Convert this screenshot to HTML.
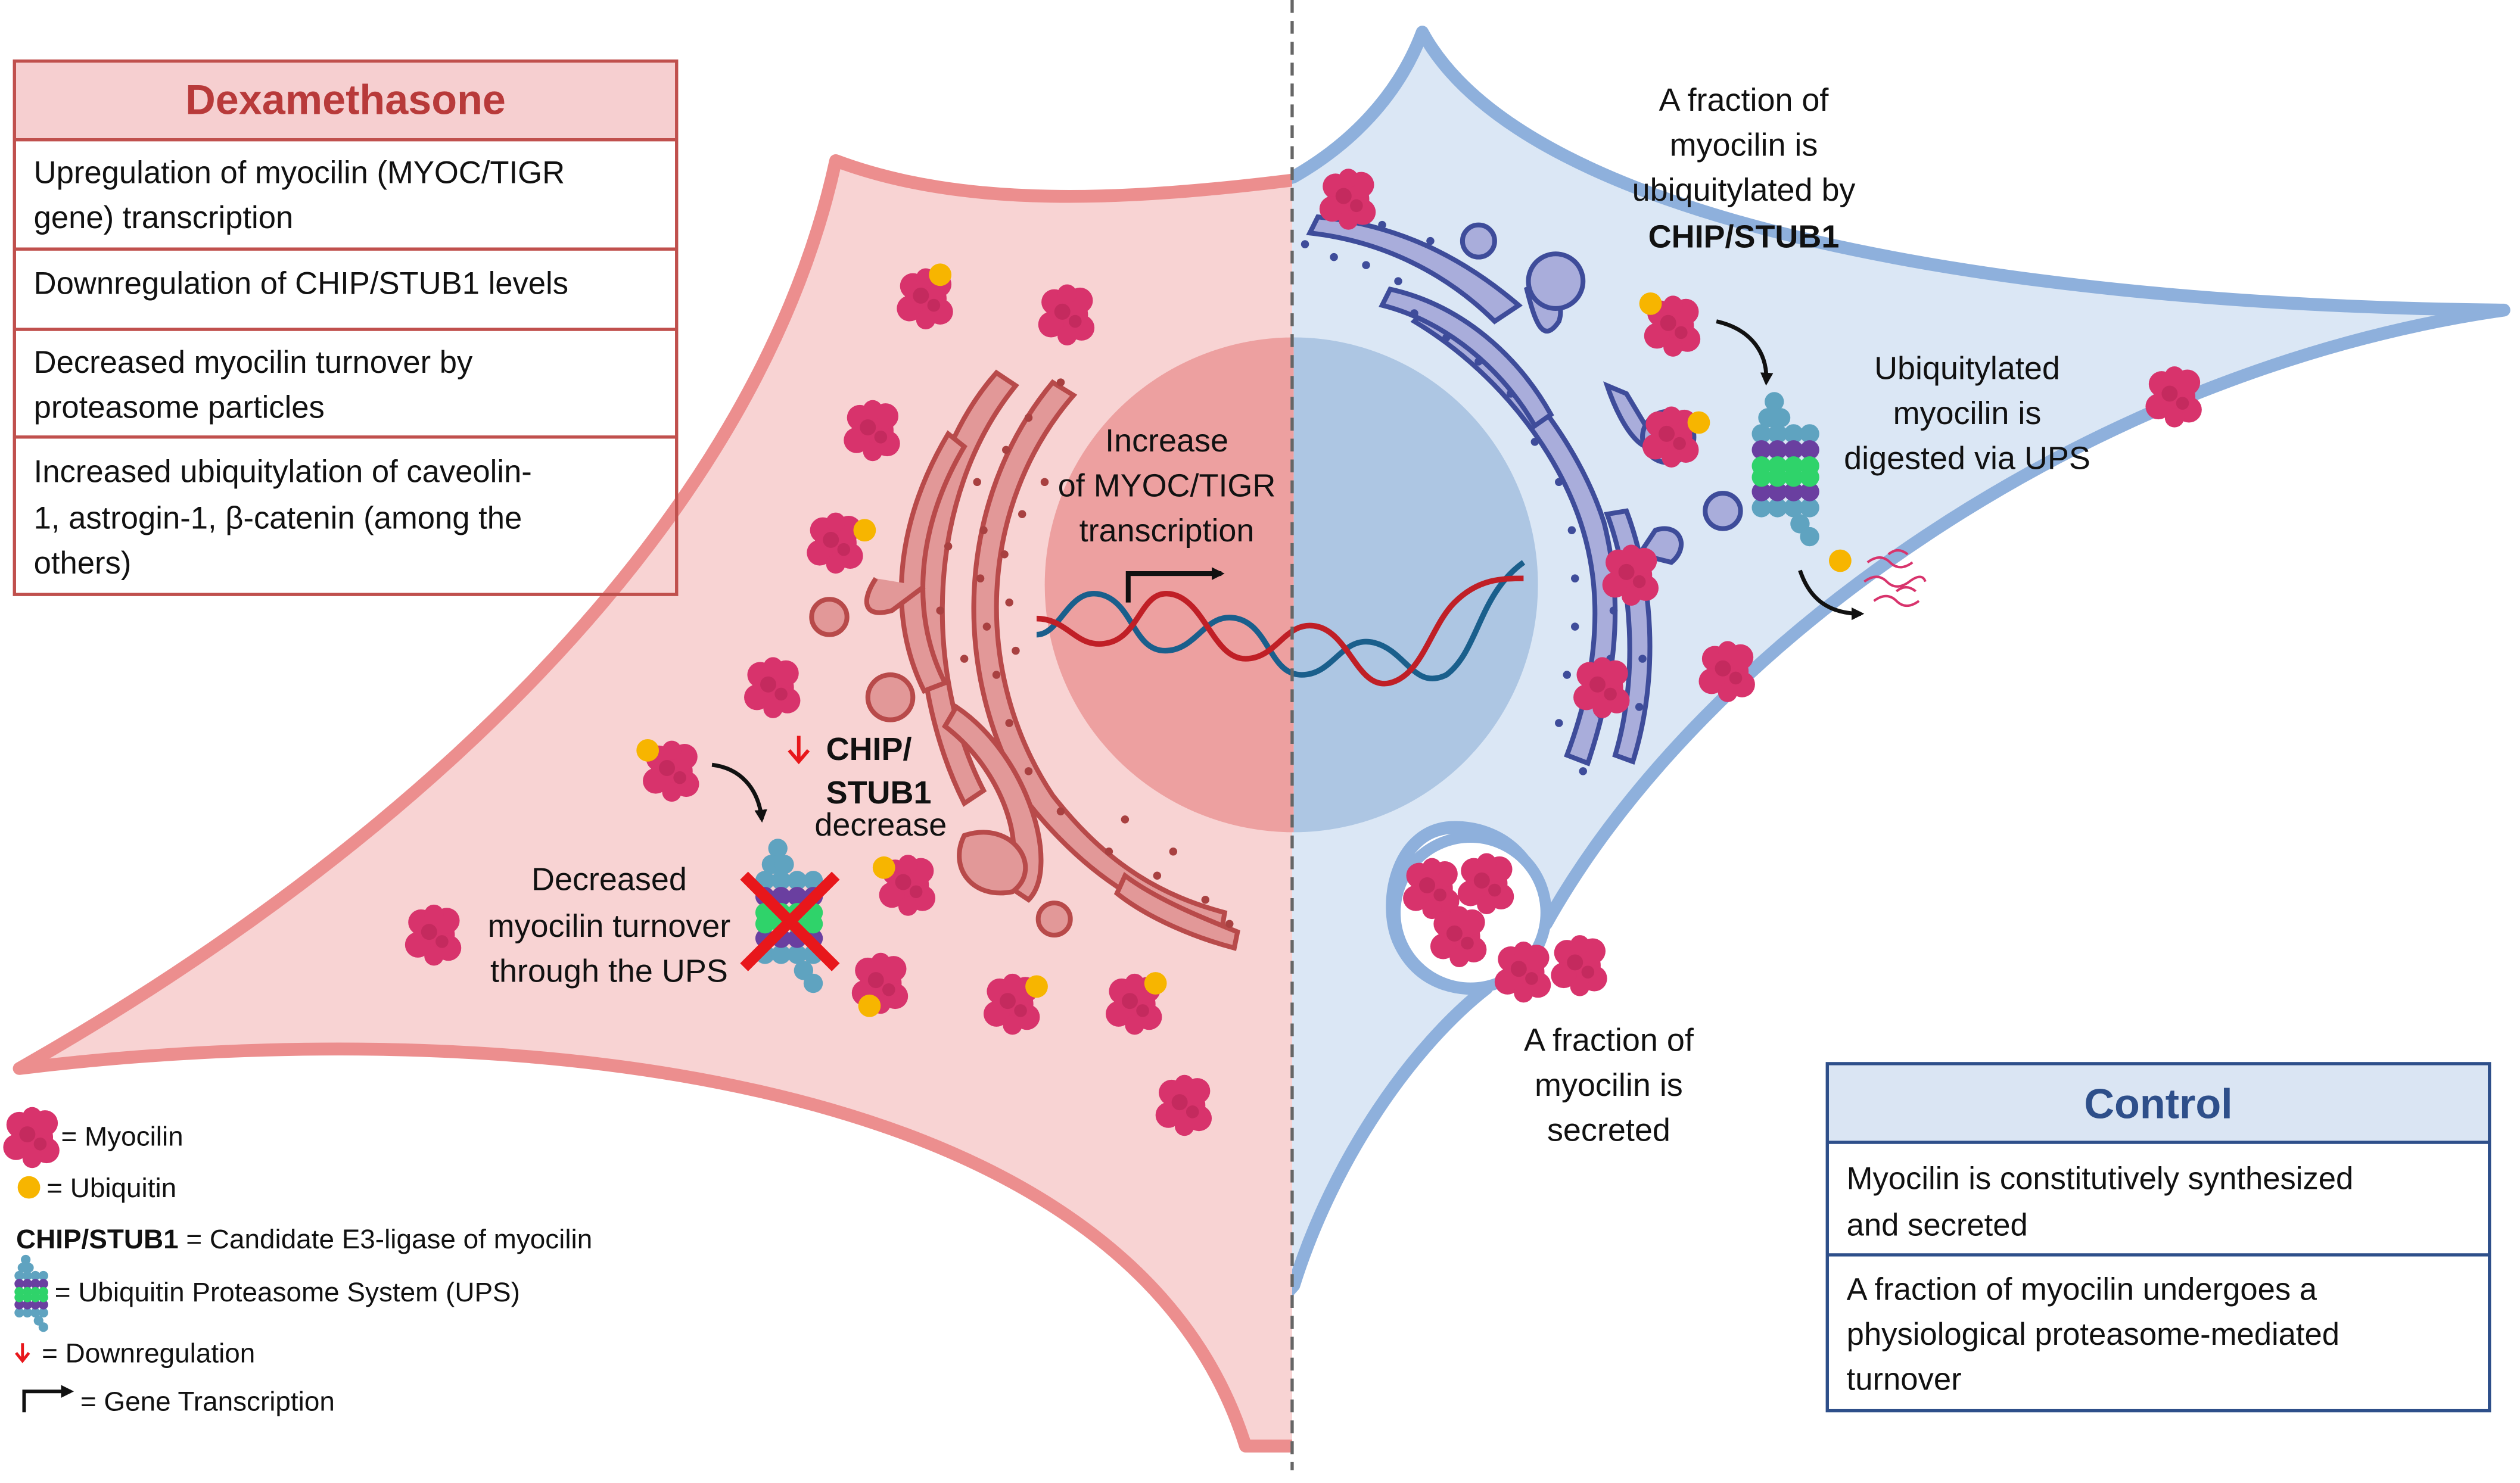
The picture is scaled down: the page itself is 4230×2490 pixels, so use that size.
<!DOCTYPE html>
<html><head><meta charset="utf-8"><style>
html,body{margin:0;padding:0;background:#fff;}
svg{display:block;}
text{font-family:"Liberation Sans",sans-serif;fill:#111;}
</style></head><body>
<svg width="4230" height="2490" viewBox="0 0 1568 923" preserveAspectRatio="none" xmlns="http://www.w3.org/2000/svg">
<defs>
<clipPath id="cl"><rect x="0" y="0" width="804" height="923"/></clipPath>
<clipPath id="cr"><rect x="804" y="0" width="800" height="923"/></clipPath>
<g id="m"><circle cx="0" cy="0" r="13" fill="#d8336c"/><circle cx="-8" cy="-8" r="8" fill="#d8336c"/><circle cx="8" cy="-9" r="8" fill="#d8336c"/><circle cx="-10" cy="6" r="8" fill="#d8336c"/><circle cx="9" cy="8" r="8" fill="#d8336c"/><circle cx="0" cy="-13" r="6" fill="#d8336c"/><circle cx="0" cy="13" r="6" fill="#d8336c"/><circle cx="-3" cy="-2" r="5" fill="#c42a5e"/><circle cx="5" cy="4" r="4" fill="#c42a5e"/></g>
<g id="p">
<g fill="#5fa3c0"><circle cx="-8" cy="-42" r="6"/><circle cx="-12" cy="-32" r="6"/><circle cx="-4" cy="-32" r="6"/><circle cx="-16" cy="-22" r="6"/><circle cx="-6" cy="-22" r="6"/><circle cx="4" cy="-22" r="6"/><circle cx="14" cy="-22" r="6"/><circle cx="-16" cy="24" r="6"/><circle cx="-6" cy="24" r="6"/><circle cx="4" cy="24" r="6"/><circle cx="14" cy="24" r="6"/><circle cx="8" cy="34" r="6"/><circle cx="14" cy="42" r="6"/></g>
<g fill="#6a3fa0"><circle cx="-16" cy="-12" r="6"/><circle cx="-6" cy="-12" r="6"/><circle cx="4" cy="-12" r="6"/><circle cx="14" cy="-12" r="6"/><circle cx="-16" cy="14" r="6"/><circle cx="-6" cy="14" r="6"/><circle cx="4" cy="14" r="6"/><circle cx="14" cy="14" r="6"/></g>
<g fill="#2fd36a"><circle cx="-16" cy="-2" r="6"/><circle cx="-6" cy="-2" r="6"/><circle cx="4" cy="-2" r="6"/><circle cx="14" cy="-2" r="6"/><circle cx="-16" cy="5" r="6"/><circle cx="-6" cy="5" r="6"/><circle cx="4" cy="5" r="6"/><circle cx="14" cy="5" r="6"/></g>
</g>
<marker id="ah" markerWidth="8" markerHeight="8" refX="6" refY="4" orient="auto" markerUnits="userSpaceOnUse"><path d="M0,0 L8,4 L0,8 Z" fill="#111"/></marker>
</defs>

<!-- right cell -->
<g clip-path="url(#cr)">
<path d="M760,125 L805,110 C840,90 870,60 885,20 C950,140 1250,190 1558,193 C1300,230 1060,400 962,575 C958,530 930,515 905,515 C870,515 860,560 870,585 C885,620 920,615 925,615 C880,650 830,720 805,800 L760,850 Z" fill="#dbe7f5" stroke="#8eb0dc" stroke-width="8" stroke-linejoin="round"/>
</g>
<circle cx="915" cy="568" r="47" fill="#fff" stroke="#8eb0dc" stroke-width="7"/>
<!-- left cell -->
<g clip-path="url(#cl)">
<path d="M850,108 L805,112 C700,125 600,130 520,100 C470,330 250,530 12,665 C300,630 700,660 775,900 L850,900 Z" fill="#f8d3d3" stroke="#ec8e8e" stroke-width="8" stroke-linejoin="round"/>
</g>
<!-- nucleus -->
<path d="M805,210 A155,154 0 0 0 805,518 Z" fill="#eda0a0"/>
<path d="M805,210 A152,154 0 0 1 805,518 Z" fill="#adc6e3"/>

<!-- left ER -->
<g fill="#e29898" stroke="#b84a4a" stroke-width="3">
<path d="M620,232 C560,300 560,420 600,500 L612,492 C575,420 575,310 632,240 Z"/>
<path d="M655,238 C595,310 590,420 640,500 C680,550 720,570 760,580 L762,568 C725,558 690,540 655,495 C605,420 608,315 668,246 Z"/>
<path d="M590,270 C560,320 550,380 575,430 L588,425 C565,380 572,325 600,278 Z"/>
<path d="M545,360 C535,375 538,385 555,380 L575,365" />
<path d="M595,440 C640,470 660,540 640,560 L625,550 C640,530 625,480 588,452 Z"/>
<path d="M700,545 C720,560 750,572 770,580 L768,590 C745,584 715,572 695,556 Z"/>
<path d="M600,520 C630,510 650,540 630,555 C605,560 590,540 600,520 Z"/>
</g>
<circle cx="516" cy="384" r="11" fill="#e29898" stroke="#b84a4a" stroke-width="3"/>
<circle cx="554" cy="434" r="14" fill="#e29898" stroke="#b84a4a" stroke-width="3"/>
<circle cx="656" cy="572" r="10" fill="#e29898" stroke="#b84a4a" stroke-width="3"/>
<g fill="#a84040">
<circle cx="608" cy="300" r="2.5"/><circle cx="612" cy="330" r="2.5"/><circle cx="610" cy="360" r="2.5"/><circle cx="614" cy="390" r="2.5"/><circle cx="620" cy="420" r="2.5"/><circle cx="626" cy="280" r="2.5"/><circle cx="640" cy="260" r="2.5"/><circle cx="660" cy="238" r="2.5"/><circle cx="628" cy="450" r="2.5"/><circle cx="640" cy="480" r="2.5"/><circle cx="660" cy="505" r="2.5"/><circle cx="690" cy="530" r="2.5"/><circle cx="720" cy="545" r="2.5"/><circle cx="750" cy="560" r="2.5"/><circle cx="590" cy="340" r="2.5"/><circle cx="585" cy="380" r="2.5"/><circle cx="600" cy="410" r="2.5"/><circle cx="625" cy="345" r="2.5"/><circle cx="628" cy="375" r="2.5"/><circle cx="632" cy="405" r="2.5"/><circle cx="650" cy="300" r="2.5"/><circle cx="636" cy="320" r="2.5"/><circle cx="700" cy="510" r="2.5"/><circle cx="730" cy="530" r="2.5"/><circle cx="765" cy="575" r="2.5"/>
</g>

<!-- right ER -->
<g fill="#a9addb" stroke="#3e4c9a" stroke-width="3">
<path d="M815,145 C860,150 900,170 930,200 L945,190 C910,160 870,140 820,135 Z"/>
<path d="M880,200 C930,230 970,280 985,330 C1000,380 990,430 975,470 L988,475 C1003,430 1012,380 998,325 C982,275 940,220 890,190 Z"/>
<path d="M860,190 C900,200 935,230 955,265 L965,258 C945,222 910,190 865,180 Z"/>
<path d="M1000,320 C1015,360 1020,420 1005,470 L1016,474 C1033,420 1028,360 1012,318 Z"/>
<path d="M950,180 C955,200 960,215 970,200 C975,185 960,175 950,180 Z"/>
<path d="M1000,240 C1010,270 1025,285 1030,275 L1012,245 Z"/>
<path d="M1030,330 C1045,325 1052,340 1040,350 L1020,345 Z"/>
</g>
<circle cx="920" cy="150" r="10" fill="#a9addb" stroke="#3e4c9a" stroke-width="3"/>
<circle cx="968" cy="175" r="17" fill="#a9addb" stroke="#3e4c9a" stroke-width="3"/>
<circle cx="1072" cy="318" r="11" fill="#a9addb" stroke="#3e4c9a" stroke-width="3"/>
<circle cx="1038" cy="272" r="16" fill="#a9addb" stroke="#3e4c9a" stroke-width="3"/>
<g fill="#3e4c9a">
<circle cx="812" cy="152" r="2.5"/><circle cx="830" cy="160" r="2.5"/><circle cx="850" cy="165" r="2.5"/><circle cx="870" cy="175" r="2.5"/><circle cx="880" cy="195" r="2.5"/><circle cx="900" cy="210" r="2.5"/><circle cx="920" cy="225" r="2.5"/><circle cx="940" cy="245" r="2.5"/><circle cx="955" cy="275" r="2.5"/><circle cx="970" cy="300" r="2.5"/><circle cx="978" cy="330" r="2.5"/><circle cx="980" cy="360" r="2.5"/><circle cx="980" cy="390" r="2.5"/><circle cx="975" cy="420" r="2.5"/><circle cx="970" cy="450" r="2.5"/><circle cx="1002" cy="350" r="2.5"/><circle cx="1004" cy="380" r="2.5"/><circle cx="1002" cy="410" r="2.5"/><circle cx="996" cy="445" r="2.5"/><circle cx="985" cy="480" r="2.5"/><circle cx="1020" cy="440" r="2.5"/><circle cx="1022" cy="410" r="2.5"/><circle cx="860" cy="140" r="2.5"/><circle cx="890" cy="150" r="2.5"/>
</g>

<!-- DNA -->
<path d="M645,395 C660,395 665,365 685,370 C705,375 705,405 725,405 C745,405 750,380 770,385 C790,390 790,420 810,420 C830,420 835,395 855,400 C875,405 880,430 900,420 C920,405 920,370 948,350" fill="none" stroke="#1a5f8c" stroke-width="3.5"/>
<path d="M645,385 C665,385 670,405 690,400 C710,395 710,365 730,370 C750,375 755,410 775,410 C795,410 800,385 820,390 C840,395 845,430 865,425 C885,420 890,390 905,375 C920,360 935,360 948,360" fill="none" stroke="#c01f26" stroke-width="3.5"/>
<path d="M702,375 L702,357 L760,357" fill="none" stroke="#111" stroke-width="3" marker-end="url(#ah)"/>
<text x="726" y="281" font-size="20" text-anchor="middle">Increase</text>
<text x="726" y="309" font-size="20" text-anchor="middle">of MYOC/TIGR</text>
<text x="726" y="337" font-size="20" text-anchor="middle">transcription</text>

<!-- dashed line -->
<line x1="804" y1="0" x2="804" y2="915" stroke="#666" stroke-width="2" stroke-dasharray="8,5"/>

<!-- myocilin -->
<g>
<use href="#m" x="576" y="186"/><use href="#m" x="664" y="196"/><use href="#m" x="543" y="268"/><use href="#m" x="520" y="338"/><use href="#m" x="481" y="428"/><use href="#m" x="418" y="480"/><use href="#m" x="565" y="551"/><use href="#m" x="270" y="582"/><use href="#m" x="548" y="612"/><use href="#m" x="630" y="625"/><use href="#m" x="706" y="625"/><use href="#m" x="737" y="688"/><use href="#m" x="839" y="124"/><use href="#m" x="1041" y="203"/><use href="#m" x="1040" y="272"/><use href="#m" x="1353" y="247"/><use href="#m" x="1015" y="358"/><use href="#m" x="1075" y="418"/><use href="#m" x="997" y="428"/><use href="#m" x="891" y="553"/><use href="#m" x="925" y="550"/><use href="#m" x="908" y="583"/><use href="#m" x="948" y="605"/><use href="#m" x="983" y="601"/><use href="#m" x="20" y="708"/>
</g>
<g fill="#f7b500">
<circle cx="585" cy="171" r="7"/><circle cx="538" cy="330" r="7"/><circle cx="403" cy="467" r="7"/><circle cx="550" cy="540" r="7"/><circle cx="541" cy="626" r="7"/><circle cx="645" cy="614" r="7"/><circle cx="719" cy="612" r="7"/><circle cx="1027" cy="189" r="7"/><circle cx="1057" cy="263" r="7"/><circle cx="1145" cy="349" r="7"/><circle cx="18" cy="739" r="7"/>
</g>

<!-- proteasomes -->
<use href="#p" x="1112" y="292"/>
<use href="#p" x="492" y="570"/>
<path d="M463,545 L520,602 M520,545 L463,602" stroke="#e8171b" stroke-width="7"/>
<use href="#p" transform="translate(20,805) scale(0.5)"/>

<!-- arrows -->
<path d="M443,476 C460,478 472,490 474,510" fill="none" stroke="#111" stroke-width="2.5" marker-end="url(#ah)"/>
<path d="M1068,200 C1090,205 1100,220 1099,238" fill="none" stroke="#111" stroke-width="2.5" marker-end="url(#ah)"/>
<path d="M1120,355 C1125,370 1135,382 1158,382" fill="none" stroke="#111" stroke-width="2.5" marker-end="url(#ah)"/>
<path d="M1162,350 q8,-6 14,0 t14,0 M1160,362 q8,-6 14,0 t14,0 t10,0 M1166,374 q8,-6 14,0 t14,0 M1175,345 q6,-5 12,0 M1180,368 q6,-5 12,0" fill="none" stroke="#d8336c" stroke-width="1.5"/>

<!-- labels -->
<path d="M497,458 L497,473 M491,467 L497,474 L503,467" fill="none" stroke="#e8171b" stroke-width="2.2"/>
<text x="514" y="473" font-size="20" font-weight="bold">CHIP/</text>
<text x="514" y="500" font-size="20" font-weight="bold">STUB1</text>
<text x="548" y="520" font-size="20" text-anchor="middle">decrease</text>
<text x="379" y="554" font-size="20" text-anchor="middle">Decreased</text>
<text x="379" y="583" font-size="20" text-anchor="middle">myocilin turnover</text>
<text x="379" y="611" font-size="20" text-anchor="middle">through the UPS</text>
<text x="1085" y="69" font-size="20" text-anchor="middle">A fraction of</text>
<text x="1085" y="97" font-size="20" text-anchor="middle">myocilin is</text>
<text x="1085" y="125" font-size="20" text-anchor="middle">ubiquitylated by</text>
<text x="1085" y="154" font-size="20" text-anchor="middle" font-weight="bold">CHIP/STUB1</text>
<text x="1224" y="236" font-size="20" text-anchor="middle">Ubiquitylated</text>
<text x="1224" y="264" font-size="20" text-anchor="middle">myocilin  is</text>
<text x="1224" y="292" font-size="20" text-anchor="middle">digested via UPS</text>
<text x="1001" y="654" font-size="20" text-anchor="middle">A fraction of</text>
<text x="1001" y="682" font-size="20" text-anchor="middle">myocilin  is</text>
<text x="1001" y="710" font-size="20" text-anchor="middle">secreted</text>

<!-- Dex box -->
<rect x="9" y="38" width="412" height="49" fill="#f6cfd0"/>
<rect x="9" y="38" width="412" height="332" fill="none" stroke="#c0504d" stroke-width="2"/>
<g stroke="#c0504d" stroke-width="2"><line x1="9" y1="87" x2="421" y2="87"/><line x1="9" y1="155" x2="421" y2="155"/><line x1="9" y1="205" x2="421" y2="205"/><line x1="9" y1="272" x2="421" y2="272"/></g>
<text x="215" y="71" font-size="26" font-weight="bold" text-anchor="middle" style="fill:#b83a3a">Dexamethasone</text>
<g font-size="19.5">
<text x="21" y="114">Upregulation of myocilin (MYOC/TIGR</text>
<text x="21" y="142">gene) transcription</text>
<text x="21" y="183">Downregulation of CHIP/STUB1 levels</text>
<text x="21" y="232">Decreased myocilin turnover by</text>
<text x="21" y="260">proteasome particles</text>
<text x="21" y="300">Increased ubiquitylation of caveolin-</text>
<text x="21" y="329">1, astrogin-1, β-catenin (among the</text>
<text x="21" y="357">others)</text>
</g>

<!-- Control box -->
<rect x="1137" y="662" width="412" height="49" fill="#dae5f3"/>
<rect x="1137" y="662" width="412" height="216" fill="none" stroke="#2e4f8a" stroke-width="2"/>
<g stroke="#2e4f8a" stroke-width="2"><line x1="1137" y1="711" x2="1549" y2="711"/><line x1="1137" y1="781" x2="1549" y2="781"/></g>
<text x="1343" y="696" font-size="26" font-weight="bold" text-anchor="middle" style="fill:#2e4f8a">Control</text>
<g font-size="19.5">
<text x="1149" y="740">Myocilin is constitutively synthesized</text>
<text x="1149" y="769">and secreted</text>
<text x="1149" y="809">A fraction of myocilin undergoes a</text>
<text x="1149" y="837">physiological proteasome-mediated</text>
<text x="1149" y="865">turnover</text>
</g>

<!-- legend -->
<g font-size="17">
<text x="38" y="713">= Myocilin</text>
<text x="29" y="745">= Ubiquitin</text>
<text x="10" y="777"><tspan font-weight="bold">CHIP/STUB1</tspan> = Candidate E3-ligase of myocilin</text>
<text x="34" y="810">= Ubiquitin Proteasome System (UPS)</text>
<text x="26" y="848">= Downregulation</text>
<text x="50" y="878">= Gene Transcription</text>
</g>
<path d="M14,836 L14,847 M10,842 L14,847 L18,842" fill="none" stroke="#e8171b" stroke-width="1.8"/>
<path d="M15,879 L15,866 L44,866" fill="none" stroke="#111" stroke-width="2.2" marker-end="url(#ah)"/>
</svg>
</body></html>
